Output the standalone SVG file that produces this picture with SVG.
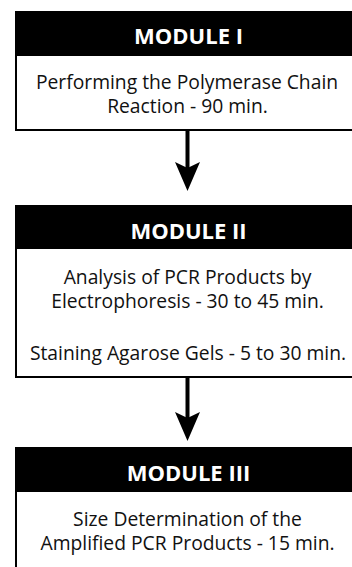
<svg xmlns="http://www.w3.org/2000/svg" width="352" height="567" viewBox="0 0 352 567">
<style>
.body{fill:#fff;stroke:#000;stroke-width:2}
.head{fill:#000}
.ht{font-family:"Open Sans","Liberation Sans",sans-serif;font-weight:bold;font-size:22px;fill:#fff;text-anchor:middle}
.bt{font-family:"Open Sans","Liberation Sans",sans-serif;font-size:19.3px;fill:#111;text-anchor:middle}
.conn{stroke:#000;stroke-width:4;fill:none}
</style>
<defs>
<marker id="ah" markerUnits="userSpaceOnUse" viewBox="0 0 25 29" markerWidth="25" markerHeight="29" refX="12.5" refY="8" orient="0">
<path d="M0,0 L12.5,6 L25,0 L12.5,29 Z" fill="#000"/>
</marker>
</defs>
<rect width="352" height="567" fill="#fff"/>
<g id="module1">
<rect class="body" x="16" y="12" width="350" height="118"/>
<rect class="head" x="15" y="12" width="352" height="44"/>
<text class="ht" x="188.5" y="43.5">MODULE I</text>
<text class="bt" x="187" y="88.5">Performing the Polymerase Chain</text>
<text class="bt" x="187.5" y="112.5">Reaction - 90 min.</text>
</g>
<g id="module2">
<rect class="body" x="16" y="206" width="350" height="171"/>
<rect class="head" x="15" y="206" width="352" height="43"/>
<text class="ht" x="188.5" y="238.5">MODULE II</text>
<text class="bt" x="187.5" y="283.5">Analysis of PCR Products by</text>
<text class="bt" x="187.5" y="307.5">Electrophoresis - 30 to 45 min.</text>
<text class="bt" x="188" y="359.5">Staining Agarose Gels - 5 to 30 min.</text>
</g>
<g id="module3">
<rect class="body" x="16" y="448" width="350" height="140"/>
<rect class="head" x="15" y="448" width="352" height="44"/>
<text class="ht" x="188.5" y="480.5">MODULE III</text>
<text class="bt" x="187.5" y="525.5">Size Determination of the</text>
<text class="bt" x="187.5" y="549.5">Amplified PCR Products - 15 min.</text>
</g>
<g id="connectors">
<line class="conn" x1="187.5" y1="131" x2="187.5" y2="170" marker-end="url(#ah)"/>
<line class="conn" x1="187.5" y1="378" x2="187.5" y2="420" marker-end="url(#ah)"/>
</g>
</svg>
